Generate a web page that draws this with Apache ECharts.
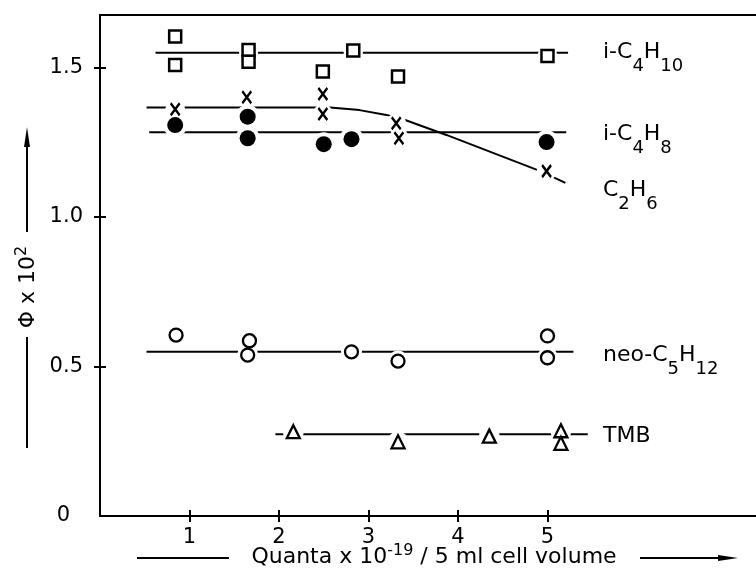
<!DOCTYPE html>
<html><head><meta charset="utf-8">
<script src="https://cdn.jsdelivr.net/npm/echarts@6/dist/echarts.min.js"></script>
<style>html,body{margin:0;padding:0;background:#fff}#c{width:756px;height:571px}</style>
</head><body><div id="c"></div>
<script>
// ---- data ----
const xTicks = [1, 2, 3, 4, 5];
const yTicks = [0, 0.5, 1.0, 1.5];
const xMax = 7.33;
const yMax = 1.675;

const iC4H10 = [[0.84,1.603],[0.84,1.508],[1.66,1.558],[1.66,1.519],[2.49,1.486],[2.83,1.556],[3.33,1.469],[5.00,1.538]];
const iC4H8  = [[0.84,1.307],[1.65,1.335],[1.65,1.263],[2.50,1.243],[2.81,1.260],[4.99,1.250]];
const C2H6   = [[0.84,1.360],[1.64,1.400],[2.49,1.411],[2.49,1.344],[3.31,1.313],[3.34,1.263],[4.99,1.153]];
const neoC5H12 = [[0.85,0.605],[1.67,0.586],[1.65,0.538],[2.81,0.549],[3.33,0.518],[5.00,0.602],[5.00,0.529]];
const TMB    = [[2.16,0.282],[3.33,0.248],[4.35,0.267],[5.15,0.285],[5.15,0.243]];

const fitIC4H10 = [[0.62,1.549],[5.23,1.549]];
const fitIC4H8  = [[0.55,1.283],[5.21,1.283]];
const fitC2H6   = [[0.52,1.366],[2.57,1.366],[2.90,1.357],[3.20,1.341],[3.41,1.324],[3.87,1.274],[4.92,1.153],[5.20,1.114]];
const fitNeo    = [[0.52,0.549],[5.29,0.549]];
const fitTMB    = [[1.96,0.273],[5.45,0.273]];

const curveNames  = ['i-C4H10', 'i-C4H8', 'C2H6', 'neo-C5H12', 'TMB'];
const labelLevels = [1.550, 1.277, 1.088, 0.538, 0.268];
const labelX = 5.62;

const xName = 'Quanta x 10';
const xNameSup = '-19';
const xNameTail = ' / 5 ml cell volume';
const yName = 'Φ x 10';
const yNameSup = '2';

// ---- chart ----
const FONT = 'DejaVu Sans';
const BLACK = '#000';
const chart = echarts.init(document.getElementById('c'), null, {renderer: 'canvas'});

function subRich(name) {
  return name.split(/(\d+)/).filter(s => s.length).map(s => /^\d+$/.test(s) ? '{s|' + s + '}' : '{m|' + s + '}').join('');
}

const markerDefs = [
  {name: 'i-C4H10', data: iC4H10, symbol: 'rect', size: 12, fill: '#fff', bw: 2.5},
  {name: 'i-C4H8', data: iC4H8, symbol: 'circle', size: 16, fill: BLACK, bw: 0},
  {name: 'C2H6', data: C2H6, symbol: 'path://M0,0L10,13M10,0L0,13', size: [9, 12], fill: 'none', bw: 2.5},
  {name: 'neo-C5H12', data: neoC5H12, symbol: 'circle', size: 13, fill: '#fff', bw: 2.3},
  {name: 'TMB', data: TMB, symbol: 'triangle', size: 13, fill: '#fff', bw: 2.3}
];
const fits = [fitIC4H10, fitIC4H8, fitC2H6, fitNeo, fitTMB];

const series = [];
fits.forEach(f => {
  series.push({
    type: 'line', data: f, xAxisIndex: 0, yAxisIndex: 0, symbol: 'none', smooth: false,
    lineStyle: {color: BLACK, width: 2}, z: 2, silent: true
  });
});
markerDefs.forEach(d => {
  const hs = Array.isArray(d.size) ? Math.max(...d.size) + 8 : d.size + 8;
  series.push({
    type: 'scatter', data: d.data, symbol: 'circle', symbolSize: hs,
    itemStyle: {color: '#fff', borderWidth: 0, opacity: 1}, z: 3, silent: true
  });
});
markerDefs.forEach(d => {
  series.push({
    type: 'scatter', name: d.name, data: d.data, symbol: d.symbol, symbolSize: d.size,
    itemStyle: {color: d.fill, borderColor: BLACK, borderWidth: d.bw, opacity: 1},
    z: 4, silent: true
  });
});
series.push({
  type: 'scatter', z: 5, silent: true, symbolSize: 0,
  itemStyle: {opacity: 1},
  data: curveNames.map((n, i) => ({name: n, value: [labelX, labelLevels[i]]})),
  label: {
    show: true, position: 'right', distance: 0, color: BLACK, textBorderWidth: 0, opacity: 1,
    formatter: p => subRich(p.name),
    rich: {
      m: {fontFamily: FONT, fontSize: 22, lineHeight: 46, verticalAlign: 'middle', color: BLACK},
      s: {fontFamily: FONT, fontSize: 18, lineHeight: 18, verticalAlign: 'bottom', color: BLACK}
    }
  }
});

const axisLineStyle = {color: BLACK, width: 2};
const option = {
  animation: false,
  backgroundColor: '#fff',
  grid: {left: 100, right: 0, top: 15, bottom: 55, containLabel: false, outerBoundsMode: 'none'},
  xAxis: [
    {
      type: 'value', min: 0, max: xMax, position: 'bottom',
      axisLine: {show: true, onZero: false, lineStyle: axisLineStyle},
      axisTick: {show: true, customValues: xTicks, inside: false, length: 6, lineStyle: axisLineStyle},
      axisLabel: {customValues: xTicks, margin: 11, fontFamily: FONT, fontSize: 21, color: BLACK},
      splitLine: {show: false},
      name: '{m|' + xName + '}{p|' + xNameSup + '}{m|' + xNameTail + '}',
      nameLocation: 'middle', nameGap: 27, nameMoveOverlap: false,
      nameTextStyle: {
        padding: [0, 0, 0, 12],
        rich: {
          m: {fontFamily: FONT, fontSize: 22, lineHeight: 28, verticalAlign: 'middle', color: BLACK},
          p: {fontFamily: FONT, fontSize: 16, lineHeight: 12, verticalAlign: 'top', color: BLACK}
        }
      }
    },
    {
      type: 'value', min: 0, max: xMax, position: 'bottom',
      axisLine: {show: false, onZero: false},
      axisTick: {show: true, customValues: xTicks, inside: true, length: 6, lineStyle: axisLineStyle},
      axisLabel: {show: false}, splitLine: {show: false}
    },
    {
      type: 'value', min: 0, max: xMax, position: 'top',
      axisLine: {show: true, onZero: false, lineStyle: axisLineStyle},
      axisTick: {show: false}, axisLabel: {show: false}, splitLine: {show: false}
    }
  ],
  yAxis: [
    {
      type: 'value', min: 0, max: yMax, position: 'left',
      axisLine: {show: true, onZero: false, lineStyle: axisLineStyle},
      axisTick: {show: true, customValues: yTicks.filter(v => v > 0), inside: false, length: 6, lineStyle: axisLineStyle},
      axisLabel: {
        customValues: yTicks, margin: 17, fontFamily: FONT, fontSize: 21, color: BLACK,
        formatter: v => v === 0 ? '{z|0}' : v.toFixed(1),
        rich: {z: {fontFamily: FONT, fontSize: 21, color: BLACK, padding: [0, 13, 0, 0]}}
      },
      splitLine: {show: false},
      name: '{m|' + yName + '}{p|' + yNameSup + '}',
      nameLocation: 'middle', nameRotate: 90, nameGap: 58, nameMoveOverlap: false,
      nameTextStyle: {
        padding: [0, 43, 0, 0],
        rich: {
          m: {fontFamily: FONT, fontSize: 22, lineHeight: 28, verticalAlign: 'middle', color: BLACK},
          p: {fontFamily: FONT, fontSize: 16, lineHeight: 12, verticalAlign: 'top', color: BLACK}
        }
      }
    },
    {
      type: 'value', min: 0, max: yMax, position: 'left',
      axisLine: {show: false, onZero: false},
      axisTick: {show: true, customValues: yTicks.filter(v => v > 0), inside: true, length: 6, lineStyle: axisLineStyle},
      axisLabel: {show: false}, splitLine: {show: false}
    }
  ],
  graphic: [
    {type: 'line', shape: {x1: 137, y1: 558, x2: 229, y2: 558}, style: {stroke: BLACK, lineWidth: 2}},
    {type: 'line', shape: {x1: 640, y1: 558, x2: 724, y2: 558}, style: {stroke: BLACK, lineWidth: 2}},
    {type: 'polygon', shape: {points: [[718, 555], [738, 558], [718, 561]]}, style: {fill: BLACK}},
    {type: 'line', shape: {x1: 27, y1: 337, x2: 27, y2: 448}, style: {stroke: BLACK, lineWidth: 2}},
    {type: 'line', shape: {x1: 27, y1: 232, x2: 27, y2: 142}, style: {stroke: BLACK, lineWidth: 2}},
    {type: 'polygon', shape: {points: [[24, 147], [27, 127], [30, 147]]}, style: {fill: BLACK}}
  ],
  series: series
};
chart.setOption(option);
</script>
</body></html>
